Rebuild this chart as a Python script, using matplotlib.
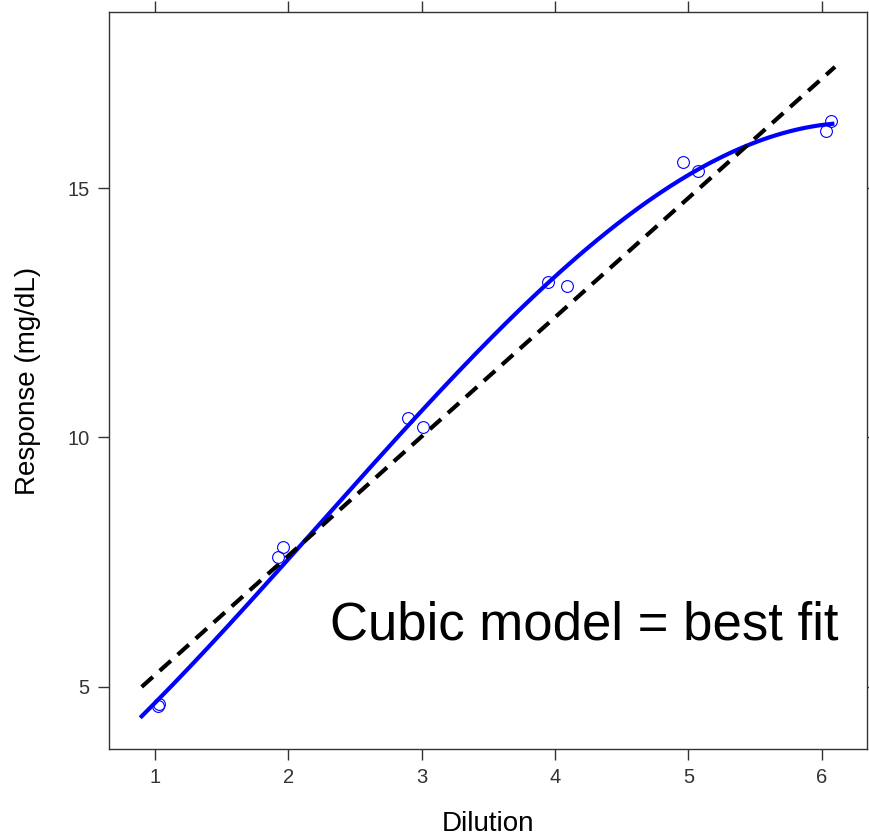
import numpy as np
import matplotlib
matplotlib.use("Agg")
import matplotlib.pyplot as plt

# observed responses (two replicates per dilution)
dilution = [1.02, 1.03, 1.92, 1.96, 2.90, 3.01, 3.95, 4.09, 4.96, 5.07, 6.03, 6.07]
response = [4.62, 4.66, 7.61, 7.81, 10.40, 10.22, 13.11, 13.03, 15.52, 15.34, 16.14, 16.34]

# straight-line fit as drawn (end points)
linear_x = [0.9, 6.1]
linear_y = [5.0, 17.43]

# points
cubic_x = [0.9, 1.99, 2.41, 2.93, 3.95, 4.24, 5.06, 6.08]
cubic_y = [4.42, 7.49, 8.80, 10.37, 13.11, 13.76, 15.36, 16.29]

xticks = [1, 2, 3, 4, 5, 6]
yticks = [5, 10, 15]

plt.rcParams["font.family"] = ["Liberation Sans", "DejaVu Sans"]

fig = plt.figure(figsize=(8.69, 8.38), dpi=100)
ax = fig.add_axes([109 / 869, 1 - 749 / 838, 758 / 869, 737 / 838])

coef = np.polyfit(cubic_x, cubic_y, 3)
xs = np.linspace(cubic_x[0], cubic_x[-1], 200)
ax.plot(xs, np.polyval(coef, xs), c='#0000ff', lw=3)
ax.plot(linear_x, linear_y, c='black', lw=3, ls=(0, (3.6, 2.2)))
ax.plot(dilution, response, ls='none', marker='o', ms=8.5, mfc='none',
        mec='#0000ff', mew=0.8)

ax.set_xlim(0.655, 6.34)
ax.set_ylim(3.755, 18.53)
ax.set_xticks(xticks)
ax.set_yticks(yticks)
ax.tick_params(direction='out', length=8, width=1, color='#333333',
               labelsize=14.5, labelcolor='#333333', top=True, right=True,
               pad=6)
for s in ax.spines.values():
    s.set_color('#333333')
    s.set_linewidth(1)

ax.set_xlabel('Dilution', fontsize=20, labelpad=17)
ax.set_ylabel('Response (mg/dL)', fontsize=20, labelpad=19)

ax.text(0.962, 0.148, 'Cubic model = best fit', transform=ax.transAxes,
        ha='right', va='baseline', fontsize=38, color='black')

fig.savefig('out.png', dpi=100)
